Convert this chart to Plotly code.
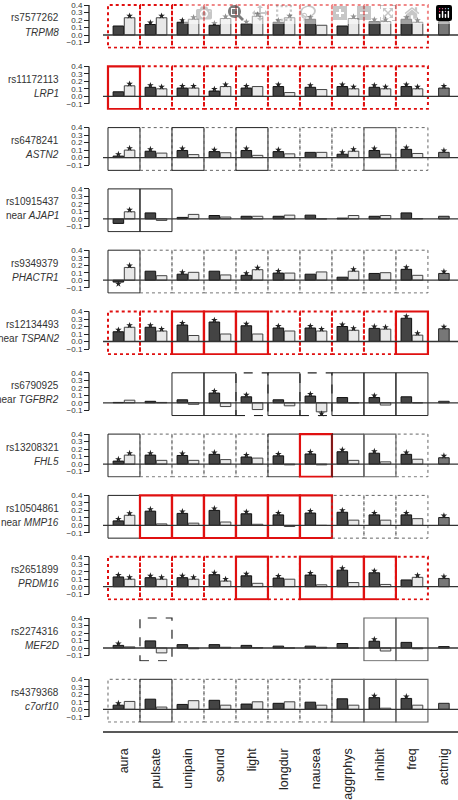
import plotly.graph_objects as go

categories = ["aura","pulsate","unipain","sound","light","longdur","nausea","aggrphys","inhibit","freq","actmig"]
snps = ["rs7577262","rs11172113","rs6478241","rs10915437","rs9349379","rs12134493",
        "rs6790925","rs13208321","rs10504861","rs2651899","rs2274316","rs4379368"]
genes = ["TRPM8","LRP1","ASTN2","AJAP1","PHACTR1","TSPAN2","TGFBR2","FHL5","MMP16","PRDM16","MEF2D","c7orf10"]
near = [0,0,0,1,0,1,1,0,1,0,0,0]

dark_vals = [
 [0.12,0.14,0.17,0.13,0.15,0.17,0.21,0.12,0.18,0.21],
 [0.06,0.12,0.11,0.07,0.11,0.13,0.12,0.13,0.12,0.13],
 [0.02,0.085,0.095,0.08,0.095,0.08,0.07,0.045,0.095,0.11],
 [-0.06,0.08,0.02,0.045,0.035,0.035,0.05,0.01,0.035,0.08],
 [-0.025,0.12,0.08,0.12,0.065,0.095,0.08,0.04,0.09,0.145],
 [0.13,0.19,0.22,0.26,0.21,0.18,0.18,0.20,0.175,0.31],
 [0.005,0.02,0.04,0.13,0.08,0.04,0.09,0.07,0.07,0.08],
 [0.04,0.12,0.115,0.13,0.095,0.11,0.135,0.165,0.145,0.13],
 [0.06,0.19,0.16,0.20,0.155,0.14,0.165,0.175,0.14,0.14],
 [0.13,0.12,0.12,0.16,0.145,0.115,0.155,0.22,0.185,0.09],
 [0.035,0.095,0.045,0.045,0.035,0.025,0.025,0.06,0.09,0.075],
 [0.055,0.135,0.065,0.12,0.07,0.08,0.095,0.14,0.155,0.145],
]
light_vals = [
 [0.23,0.23,0.21,0.22,0.25,0.23,0.13,0.22,0.18,0.17],
 [0.14,0.10,0.11,0.13,0.13,0.05,0.09,0.10,0.10,0.10],
 [0.10,0.06,0.04,0.065,0.03,0.05,0.07,0.085,0.045,0.055],
 [0.095,-0.02,0.06,0.025,0.035,0.05,0.0,0.045,0.045,0.005],
 [0.17,0.06,0.105,0.07,0.14,0.095,0.11,0.12,0.10,0.065],
 [0.19,0.14,0.08,0.10,0.10,0.14,0.14,0.15,0.165,0.085],
 [0.035,0.005,-0.02,-0.05,-0.09,-0.04,-0.12,0.0,-0.03,0.0],
 [0.12,0.05,0.05,0.06,0.08,-0.01,-0.01,0.05,0.03,0.065],
 [0.135,0.02,0.03,0.045,0.015,-0.015,0.0,0.07,0.07,0.09],
 [0.10,0.10,0.10,0.075,0.045,0.10,0.025,0.055,0.03,0.125],
 [0.015,-0.065,-0.01,0.01,0.005,0.0,0.01,0.0,-0.04,-0.01],
 [0.105,0.03,0.115,0.055,0.10,0.10,0.055,0.055,0.015,0.055],
]
actmig_vals = [0.18,0.11,0.07,0.035,0.09,0.17,0.02,0.085,0.105,0.11,0.02,0.08]
dark_star = ["0111111011","0111111111","1111110111","0000000000","1010110001","1111111111",
             "0001101010","1111111111","1111111111","1111111110","1000000010","1000000011"]
light_star = ["1111110111","1111000111","1000000100","1000000000","1000100100","1100001111",
              "0000001000","1000000000","1000000000","1111000001","0000000000","0000000000"]
actmig_star = [0,1,1,0,1,1,0,1,1,1,0,0]
# R red solid, r red dotted, K black solid, G grey solid, k grey dotted, d black dashed, . none
boxes = ["rrrrrrrrrr","Rrrrrrrrrr","KkKkKkkkGk","KK........","Kkkkkkkkkk","rrRRRrrrrR",
         "..KKdKdKKK","KkkkkKRKGk","KRRRRRRkkk","rrrrRrRRRr",".d......GG","kKkkkkkGGG"]

W, H = 458, 800
fig = go.Figure()
layout = dict(width=W, height=H, margin=dict(l=0, r=0, t=0, b=0),
              paper_bgcolor="white", plot_bgcolor="white", showlegend=False,
              font=dict(family="Liberation Sans, Arial", color="#222"))
n = len(snps)
shapes, annotations = [], []
x0p = 103 / W
layout["xaxis"] = dict(domain=[x0p, 1], range=[-0.656, 10.44], anchor="y%d" % n,
                       tickvals=list(range(11)), ticktext=categories, tickangle=-90,
                       ticks="", showgrid=False, zeroline=False, showline=False,
                       tickfont=dict(size=12.5, color="#222"), ticklabelstandoff=22, automargin=False)
box_style = {"R": ("#e01010", 2.2, "solid"), "r": ("#e01010", 2.0, "dot"),
             "K": ("#222", 1.0, "solid"), "G": ("#666", 1.2, "solid"),
             "k": ("#666", 1.0, "dot"), "d": ("#222", 1.2, "dash")}
for k in range(n):
    ya = "y" if k == 0 else "y%d" % (k + 1)
    yk = "yaxis" if k == 0 else "yaxis%d" % (k + 1)
    zero = 35 + 61.3 * k
    top, bot = zero - 0.42 * 75, zero + 0.18 * 75
    layout[yk] = dict(domain=[1 - bot / H, 1 - top / H], range=[-0.18, 0.42], anchor="free",
                      position=89 / W, tickvals=[-0.1, 0, 0.1, 0.2, 0.3, 0.4], tickformat=".1f",
                      ticks="outside", ticklen=5, tickcolor="#222", showgrid=False, zeroline=False,
                      showline=False, tickfont=dict(size=8, color="#333"), automargin=False)
    xs = list(range(10))
    fig.add_trace(go.Bar(x=xs, y=dark_vals[k], width=0.33, offset=-0.34, xaxis="x", yaxis=ya,
                         marker=dict(color="#444", line=dict(color="#111", width=1))))
    fig.add_trace(go.Bar(x=xs, y=light_vals[k], width=0.33, offset=0.01, xaxis="x", yaxis=ya,
                         marker=dict(color="#e8e8e8", line=dict(color="#444", width=1))))
    fig.add_trace(go.Bar(x=[10], y=[actmig_vals[k]], width=0.33, offset=-0.165, xaxis="x", yaxis=ya,
                         marker=dict(color="#777", line=dict(color="#222", width=1))))
    sx, sy = [], []
    for i in range(10):
        for vals, stars, off in ((dark_vals[k], dark_star[k], -0.175), (light_vals[k], light_star[k], 0.175)):
            if stars[i] == "1":
                v = vals[i]
                sx.append(i + off); sy.append(v + 0.025 if v >= 0 else v - 0.025)
    if actmig_star[k]:
        sx.append(10); sy.append(actmig_vals[k] + 0.025)
    fig.add_trace(go.Scatter(x=sx, y=sy, mode="markers", xaxis="x", yaxis=ya, cliponaxis=False,
                             marker=dict(symbol="star", size=5, color="#222")))
    for i, c in enumerate(boxes[k]):
        if c == ".":
            continue
        col, wd, dash = box_style[c]
        shapes.append(dict(type="rect", xref="x", yref=ya, x0=i - 0.5, x1=i + 0.5, y0=-0.17, y1=0.40,
                           line=dict(color=col, width=wd, dash=dash), layer="above"))
    shapes.append(dict(type="line", xref="paper", yref=ya, x0=x0p, x1=1, y0=0, y1=0,
                       line=dict(color="#333", width=1.3)))
    shapes.append(dict(type="line", xref="paper", yref=ya, x0=89 / W, x1=89 / W, y0=-0.1, y1=0.4,
                       line=dict(color="#222", width=1.3)))
    annotations.append(dict(xref="paper", yref="paper", x=61 / W, y=1 - (zero - 17) / H, text=snps[k],
                            showarrow=False, xanchor="right", yanchor="middle", font=dict(size=10, color="#333")))
    g = "<i>%s</i>" % genes[k]
    if near[k]:
        g = "near " + g
    annotations.append(dict(xref="paper", yref="paper", x=61 / W, y=1 - (zero - 3) / H, text=g,
                            showarrow=False, xanchor="right", yanchor="middle", font=dict(size=10, color="#333")))
shapes.append(dict(type="line", xref="paper", yref="paper", x0=x0p, x1=1, y0=1 - 732 / H, y1=1 - 732 / H,
                   line=dict(color="#222", width=1.3)))
layout["shapes"] = shapes
layout["annotations"] = annotations
layout["barmode"] = "overlay"
fig.update_layout(**layout)
fig.write_html("out.html", post_script="document.body.style.margin='0';document.body.style.overflow='hidden';")
